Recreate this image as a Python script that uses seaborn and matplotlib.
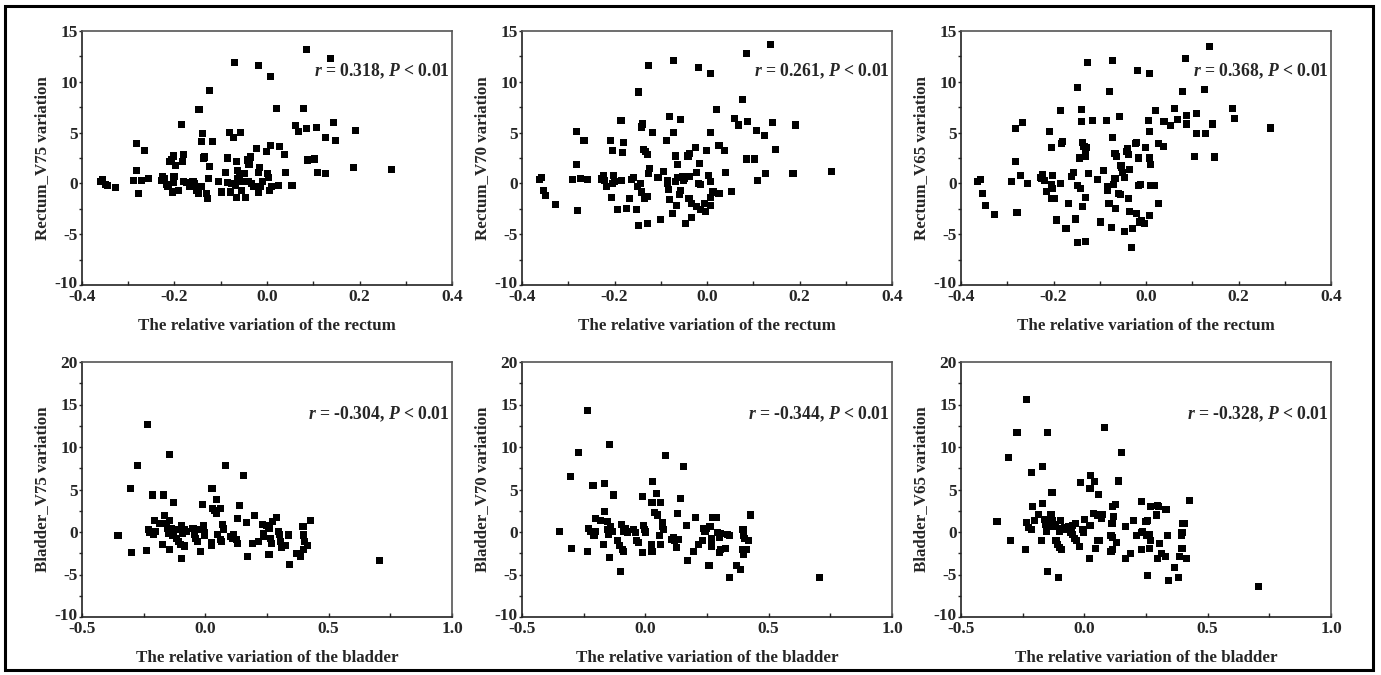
import matplotlib
matplotlib.use("Agg")
import matplotlib.pyplot as plt
import matplotlib.transforms as mtransforms
import numpy as np
import pandas as pd
import seaborn as sns
from matplotlib.ticker import MultipleLocator
from matplotlib.patches import Rectangle

# ---- data ----
# rectum, V75
p1_x = [-0.360, -0.355, -0.350, -0.345, -0.327, -0.289, -0.282, -0.282, -0.278, -0.271,
        -0.265, -0.257, -0.228, -0.225, -0.221, -0.217, -0.214, -0.210, -0.206, -0.203,
        -0.201, -0.203, -0.204, -0.197, -0.192, -0.185, -0.181, -0.183, -0.181, -0.174,
        -0.167, -0.160, -0.156, -0.153, -0.149, -0.147, -0.142, -0.140, -0.141, -0.138,
        -0.135, -0.131, -0.129, -0.127, -0.125, -0.124, -0.117, -0.104, -0.099, -0.090,
        -0.086, -0.086, -0.081, -0.077, -0.078, -0.072, -0.071, -0.068, -0.066, -0.066,
        -0.063, -0.060, -0.063, -0.058, -0.055, -0.053, -0.048, -0.046, -0.041, -0.039,
        -0.041, -0.036, -0.034, -0.030, -0.023, -0.019, -0.019, -0.018, -0.016, -0.014,
        -0.009, -0.001, 0.002, 0.004, 0.006, 0.009, 0.008, 0.008, 0.020, 0.024,
        0.027, 0.038, 0.040, 0.054, 0.061, 0.069, 0.078, 0.086, 0.086, 0.087,
        0.103, 0.108, 0.110, 0.126, 0.127, 0.137, 0.144, 0.148, 0.191, 0.187, 0.270]
p1_y = [0.2, 0.4, -0.1, -0.2, -0.4, 0.3, 3.9, 1.25, -1.0, 0.3,
        3.25, 0.5, 0.3, 0.7, 0.45, -0.1, -0.35, 2.2, 2.3, 2.7,
        0.7, 0.05, -0.85, 1.8, -0.7, 5.8, 2.8, 2.2, 0.2, 0.1,
        -0.35, 0.2, 0.0, -0.7, -0.95, 7.25, -0.35, 4.9, 4.1, 2.5,
        2.6, -0.95, -1.45, 0.45, 9.1, 1.7, 4.1, 0.15, -0.85, 1.1,
        2.5, 0.1, 5.0, 0.0, -0.85, 4.5, 11.9, -0.2, -1.35, 2.2,
        1.3, 0.7, 0.45, 5.0, -0.7, 0.15, 1.0, -1.35, 2.3, 1.9,
        0.15, 2.6, 0.0, -0.35, 3.4, 1.1, -0.85, 11.6, 1.6, -0.35,
        0.15, 3.1, 0.95, 0.6, -0.7, -0.35, 10.5, 3.7, 7.35, -0.2,
        3.6, 2.8, 1.1, -0.25, 5.7, 5.15, 7.35, 13.2, 5.4, 2.3,
        2.4, 5.5, 1.05, 4.5, 0.95, 12.3, 6.0, 4.2, 5.2, 1.6, 1.4]

# rectum, V70
p2_x = [-0.363, -0.358, -0.354, -0.350, -0.327, -0.291, -0.283, -0.282, -0.280, -0.273,
        -0.266, -0.259, -0.229, -0.224, -0.221, -0.228, -0.217, -0.209, -0.205, -0.207,
        -0.203, -0.204, -0.200, -0.193, -0.186, -0.183, -0.181, -0.185, -0.174, -0.168,
        -0.163, -0.158, -0.153, -0.150, -0.149, -0.148, -0.144, -0.142, -0.142, -0.140,
        -0.137, -0.133, -0.135, -0.128, -0.128, -0.128, -0.127, -0.127, -0.125, -0.117,
        -0.106, -0.101, -0.094, -0.088, -0.086, -0.084, -0.086, -0.081, -0.081, -0.075,
        -0.072, -0.073, -0.068, -0.068, -0.066, -0.063, -0.063, -0.060, -0.058, -0.058,
        -0.053, -0.050, -0.048, -0.046, -0.041, -0.037, -0.037, -0.039, -0.034, -0.034,
        -0.024, -0.023, -0.022, -0.019, -0.017, -0.018, -0.014, -0.014, -0.005, -0.004,
        -0.001, 0.004, 0.007, 0.007, 0.008, 0.008, 0.008, 0.013, 0.020, 0.026,
        0.026, 0.038, 0.040, 0.053, 0.060, 0.068, 0.076, 0.085, 0.087, 0.086,
        0.103, 0.108, 0.110, 0.124, 0.126, 0.137, 0.142, 0.148, 0.186, 0.191, 0.270]
p2_y = [0.35, 0.6, -0.7, -1.2, -2.1, 0.4, 5.15, 1.85, -2.65, 0.5,
        4.2, 0.4, 0.5, 0.8, 0.3, 0.4, -0.35, 4.2, 3.25, -1.35,
        0.8, 0.0, 0.15, -2.6, 6.2, 3.0, 4.05, 0.25, -2.5, -1.5,
        0.4, 0.6, -2.55, -0.35, -4.1, 9.0, 0.0, -0.85, 5.55, 5.85,
        3.3, 3.1, -1.5, 2.85, -1.25, -3.95, 11.6, 0.95, 1.45, 5.05,
        0.6, -3.55, 1.2, 4.2, 0.0, -0.6, 0.3, 6.6, -1.6, -3.0,
        12.1, 5.0, 2.7, 0.15, -2.2, 1.85, 0.6, -1.1, 6.3, -0.7,
        0.7, 0.3, 0.5, -3.95, 2.7, 2.9, 0.7, -1.5, -3.4, -1.95,
        3.55, 1.1, -2.3, 11.45, 1.95, 0.0, -0.1, -2.6, -1.95, -2.8,
        3.25, 0.8, 10.8, 5.0, 0.15, -1.35, -2.15, -0.85, 7.25, 3.75,
        -1.0, 3.25, 1.05, -0.8, 6.4, 5.75, 8.3, 12.75, 6.1, 2.4,
        2.4, 5.2, 0.3, 4.7, 0.95, 13.7, 6.0, 3.35, 0.95, 5.75, 1.2]

# rectum, V65
p3_x = [-0.364, -0.358, -0.353, -0.348, -0.328, -0.290, -0.282, -0.282, -0.279, -0.272,
        -0.267, -0.257, -0.229, -0.223, -0.220, -0.225, -0.216, -0.209, -0.205, -0.203,
        -0.204, -0.202, -0.204, -0.197, -0.193, -0.185, -0.184, -0.182, -0.180, -0.173,
        -0.168, -0.162, -0.157, -0.152, -0.149, -0.148, -0.148, -0.144, -0.142, -0.140,
        -0.140, -0.137, -0.134, -0.130, -0.128, -0.137, -0.130, -0.130, -0.131, -0.126,
        -0.124, -0.115, -0.104, -0.099, -0.092, -0.086, -0.084, -0.084, -0.080, -0.079,
        -0.074, -0.072, -0.072, -0.070, -0.067, -0.063, -0.067, -0.066, -0.058, -0.059,
        -0.056, -0.054, -0.052, -0.050, -0.047, -0.047, -0.041, -0.040, -0.038, -0.038,
        -0.036, -0.035, -0.032, -0.029, -0.023, -0.020, -0.020, -0.018, -0.017, -0.016,
        -0.011, -0.014, -0.009, -0.004, -0.001, 0.005, 0.007, 0.007, 0.007, 0.009,
        0.009, 0.018, 0.007, 0.020, 0.027, 0.027, 0.038, 0.039, 0.053, 0.061,
        0.068, 0.078, 0.086, 0.088, 0.088, 0.104, 0.110, 0.110, 0.128, 0.126,
        0.137, 0.144, 0.149, 0.187, 0.192, 0.270]
p3_y = [0.2, 0.4, -1.0, -2.15, -3.05, 0.15, 5.4, 2.2, -2.9, 0.8,
        6.0, 0.0, 0.6, 0.85, 0.3, 0.45, -0.8, 5.15, -0.1, -0.5,
        3.5, 0.8, -1.5, -1.5, -3.6, 7.2, 0.0, 3.9, 4.1, -4.45,
        -1.95, 0.7, 1.1, -3.5, -0.2, 9.4, -5.8, 2.5, -0.5, 7.3,
        6.1, 4.05, 3.6, 3.3, 3.5, -2.3, 2.65, -1.35, -5.7, 11.9,
        0.95, 6.2, 0.4, -3.8, 1.3, 6.2, -0.3, -0.7, -2.0, 9.05,
        -4.35, 4.55, 12.1, -0.1, 2.9, 2.65, 0.45, -2.5, 6.6, -0.95,
        -1.1, 1.75, 1.55, 1.1, 0.6, -4.7, 3.1, 3.4, 2.8, -1.5,
        1.4, -2.8, -6.35, -4.45, 3.9, 4.05, -3.0, 11.1, 2.5, -0.2,
        -0.1, -3.8, -3.65, -3.95, 3.5, 6.2, 10.8, 5.15, 2.5, 1.85,
        -0.2, -0.25, -3.2, 7.2, -2.0, 3.9, 3.6, 6.1, 5.7, 7.4,
        6.3, 9.05, 12.3, 6.7, 5.85, 2.65, 6.85, 4.95, 4.95, 9.25,
        13.5, 5.85, 2.6, 7.4, 6.4, 5.45]

# bladder, V75
p4_x = [-0.354, -0.304, -0.300, -0.276, -0.239, -0.236, -0.232, -0.226, -0.215, -0.209,
        -0.201, -0.205, -0.185, -0.172, -0.168, -0.165, -0.158, -0.155, -0.151, -0.147,
        -0.145, -0.145, -0.138, -0.131, -0.124, -0.128, -0.118, -0.108, -0.101, -0.104,
        -0.097, -0.097, -0.091, -0.086, -0.084, -0.077, -0.050, -0.043, -0.039, -0.030,
        -0.023, -0.018, -0.012, -0.007, -0.005, -0.003, 0.024, 0.024, 0.027, 0.028,
        0.038, 0.045, 0.047, 0.061, 0.051, 0.061, 0.065, 0.069, 0.072, 0.082,
        0.101, 0.109, 0.115, 0.128, 0.132, 0.132, 0.139, 0.153, 0.166, 0.170,
        0.191, 0.201, 0.214, 0.231, 0.234, 0.234, 0.250, 0.258, 0.258, 0.264,
        0.268, 0.272, 0.288, 0.295, 0.301, 0.304, 0.308, 0.326, 0.339, 0.342,
        0.369, 0.385, 0.396, 0.399, 0.399, 0.403, 0.416, 0.427, 0.707]
p4_y = [-0.45, 5.15, -2.45, 7.8, -2.2, 12.7, 0.25, -0.05, 4.35, -0.25,
        0.1, 1.4, 1.0, -1.45, 4.35, 1.9, 1.0, 0.45, -0.15, 1.35,
        -2.1, 9.15, 0.45, -0.35, 0.25, 3.5, -0.75, -1.15, -1.45, 0.25,
        0.8, -3.1, -0.15, -1.65, 0.25, 0.05, 0.45, -0.25, -0.75, -1.15,
        0.25, -2.25, 3.25, 0.8, -0.05, -0.35, -1.25, -1.55, 5.15, 2.8,
        2.5, 3.85, 2.2, 2.8, -0.25, -0.85, -1.15, 0.9, 0.35, 7.8,
        -0.55, -0.75, -0.35, -0.85, -1.4, 1.6, 3.1, 6.65, 1.1, -2.9,
        -1.35, 1.9, -1.15, 0.9, -0.15, -0.55, 0.75, 0.45, -2.7, -0.75,
        -1.35, 1.2, 1.75, 0.05, -0.25, -1.15, -1.85, -1.55, -0.35, -3.8,
        -2.5, -2.9, 0.65, -0.35, -2.1, -1.15, -1.6, 1.4, -3.3]

# bladder, V70
p5_x = [-0.349, -0.302, -0.298, -0.272, -0.235, -0.233, -0.231, -0.224, -0.212, -0.208,
        -0.202, -0.202, -0.181, -0.168, -0.165, -0.164, -0.155, -0.152, -0.148, -0.145,
        -0.144, -0.141, -0.134, -0.128, -0.112, -0.103, -0.094, -0.101, -0.097, -0.090,
        -0.087, -0.081, -0.074, -0.047, -0.040, -0.036, -0.027, -0.013, -0.011, -0.007,
        -0.003, 0.000, 0.024, 0.027, 0.027, 0.030, 0.038, 0.044, 0.051, 0.058,
        0.060, 0.063, 0.070, 0.071, 0.074, 0.083, 0.105, 0.114, 0.118, 0.128,
        0.132, 0.134, 0.141, 0.155, 0.168, 0.171, 0.195, 0.203, 0.215, 0.233,
        0.235, 0.242, 0.246, 0.258, 0.262, 0.269, 0.269, 0.273, 0.289, 0.293,
        0.300, 0.305, 0.302, 0.306, 0.325, 0.333, 0.340, 0.343, 0.370, 0.386,
        0.396, 0.399, 0.403, 0.396, 0.399, 0.410, 0.417, 0.427, 0.706]
p5_y = [0.1, 6.55, -1.95, 9.35, -2.3, 14.3, 0.4, 0.1, 5.5, -0.35,
        0.1, 1.6, 1.3, -1.45, 5.75, 2.4, 1.2, 0.3, -0.25, -3.05,
        10.3, 0.7, 0.1, 4.35, -1.05, -1.55, -2.05, -4.6, 0.9, 0.1,
        -2.25, 0.4, 0.0, 0.3, -0.1, -1.05, -1.25, -2.45, 4.15, 0.8,
        0.25, 0.0, -1.45, -2.3, 3.45, 5.9, 2.3, 4.55, 2.0, -0.4,
        3.45, -1.45, 1.1, 0.7, 0.25, 8.95, -0.85, -0.65, -1.0, -1.85,
        2.2, -0.85, 3.95, 7.7, 0.8, -3.4, -2.25, 1.75, -1.45, -1.05,
        0.4, 0.1, 0.45, -3.9, 0.7, -0.8, -1.65, 1.75, 1.75, -0.1,
        -0.65, -0.2, -2.45, -2.05, -1.95, -0.25, -0.45, -5.3, -3.9, -4.4,
        0.3, -0.4, -0.8, -2.1, -2.65, -2.1, -1.05, 2.0, -5.3]

# bladder, V65
p6_x = [-0.354, -0.307, -0.301, -0.273, -0.238, -0.236, -0.234, -0.227, -0.216, -0.216,
        -0.209, -0.203, -0.185, -0.173, -0.169, -0.169, -0.162, -0.158, -0.155, -0.149,
        -0.149, -0.145, -0.135, -0.128, -0.131, -0.131, -0.118, -0.115, -0.108, -0.101,
        -0.091, -0.104, -0.101, -0.095, -0.088, -0.081, -0.072, -0.064, -0.054, -0.047,
        -0.041, -0.047, -0.036, -0.030, -0.020, -0.014, -0.007, -0.003, 0.000, 0.020,
        0.023, 0.024, 0.023, 0.036, 0.041, 0.047, 0.054, 0.061, 0.058, 0.054,
        0.068, 0.072, 0.081, 0.108, 0.115, 0.108, 0.115, 0.112, 0.115, 0.128,
        0.118, 0.131, 0.138, 0.149, 0.166, 0.166, 0.189, 0.199, 0.212, 0.230,
        0.230, 0.236, 0.232, 0.250, 0.257, 0.254, 0.264, 0.257, 0.264, 0.268,
        0.270, 0.291, 0.297, 0.301, 0.297, 0.304, 0.311, 0.328, 0.331, 0.338,
        0.341, 0.365, 0.382, 0.385, 0.395, 0.396, 0.399, 0.405, 0.396, 0.415,
        0.426, 0.707]
p6_y = [1.2, 8.8, -1.0, 11.75, -2.05, 15.6, 1.1, 0.5, 0.3, 7.0,
        3.0, 1.3, 2.1, -1.05, 7.7, 3.35, 1.5, 0.9, 0.1, 11.75,
        -4.6, 1.3, 2.0, 1.3, 0.7, 4.7, 0.9, -1.0, -1.45, -1.85,
        -2.1, -5.3, 0.1, 1.3, 0.4, 0.5, 0.3, 0.7, 0.0, -0.25,
        -0.8, 0.8, 1.0, -1.05, -1.75, 5.8, 0.3, -0.1, 1.5, -3.15,
        5.1, 6.6, 0.8, 2.2, 5.95, -1.95, -1.05, -1.0, 4.45, 2.0,
        1.6, 2.1, 12.25, -2.25, -2.05, -0.45, -0.65, 1.0, 3.0, 3.25,
        1.8, -1.2, 6.0, 9.35, -3.15, 0.7, -2.55, 1.3, -0.45, 3.55,
        -0.1, 0.1, -2.05, 1.2, 1.4, -0.45, -0.25, -5.1, -1.95, 3.0,
        -1.0, 2.0, 3.15, 3.05, -3.15, -1.4, -2.55, -2.85, 2.7, -0.45,
        -5.7, -4.15, -5.3, -2.85, -0.45, -0.1, 1.0, 1.0, -1.95, -3.1,
        3.75, -6.4]

panel_x = [p1_x, p2_x, p3_x, p4_x, p5_x, p6_x]
panel_y = [p1_y, p2_y, p3_y, p4_y, p5_y, p6_y]
y_labels = ["Rectum_V75 variation", "Rectum_V70 variation", "Rectum_V65 variation",
            "Bladder_V75 variation", "Bladder_V70 variation", "Bladder_V65 variation"]
x_labels = ["The relative variation of the rectum"] * 3 + ["The relative variation of the bladder"] * 3
r_values = ["0.318", "0.261", "0.368", "-0.304", "-0.344", "-0.328"]

sns.set_style("ticks")
plt.rcParams["font.family"] = ["Liberation Serif", "DejaVu Serif"]
plt.rcParams["font.weight"] = "bold"
plt.rcParams["axes.labelweight"] = "bold"
plt.rcParams["mathtext.fontset"] = "custom"
plt.rcParams["mathtext.it"] = "Liberation Serif:italic:bold"
plt.rcParams["mathtext.rm"] = "Liberation Serif:bold"

fig = plt.figure(figsize=(13.81, 6.75), dpi=100)
W, H = 1381, 675
lefts = [82, 522, 961]
tops = [31, 362]
bottoms = [285, 617]
width = 370

axes = []
for i in range(6):
    row, col = divmod(i, 3)
    ax = fig.add_axes([lefts[col] / W, (H - bottoms[row]) / H,
                       width / W, (bottoms[row] - tops[row]) / H])
    axes.append(ax)
    df = pd.DataFrame({"x": panel_x[i], "y": panel_y[i]})
    sns.scatterplot(data=df, x="x", y="y", ax=ax, marker="s", s=26,
                    color="black", edgecolor="none", linewidth=0)
    if row == 0:
        ax.set_xlim(-0.4, 0.4)
        ax.set_ylim(-10, 15)
        ax.xaxis.set_major_locator(MultipleLocator(0.2))
        ax.xaxis.set_minor_locator(MultipleLocator(0.1))
        text_y = 0.84
    else:
        ax.set_xlim(-0.5, 1.0)
        ax.set_ylim(-10, 20)
        ax.xaxis.set_major_locator(MultipleLocator(0.5))
        ax.xaxis.set_minor_locator(MultipleLocator(0.25))
        text_y = 0.795
    ax.yaxis.set_major_locator(MultipleLocator(5))
    ax.yaxis.set_minor_locator(MultipleLocator(2.5))
    ax.xaxis.set_major_formatter(plt.FuncFormatter(lambda v, p: f"{v:.1f}"))
    ax.yaxis.set_major_formatter(plt.FuncFormatter(lambda v, p: f"{v:.0f}"))

    ax.tick_params(axis="x", which="both", direction="in", length=3, width=1,
                   labelsize=12.5, pad=3)
    ax.tick_params(axis="y", which="both", direction="out", length=2.5, width=1,
                   labelsize=12.5, pad=0.5)
    for name, sp in ax.spines.items():
        sp.set_visible(True)
        sp.set_linewidth(1.2)
        sp.set_color("#222222" if name in ("left", "bottom") else "#555555")

    ax.set_xlabel(x_labels[i], fontsize=12.2, fontweight="bold", labelpad=9)
    ax.set_ylabel(y_labels[i], fontsize=12.2, fontweight="bold", labelpad=3)
    ax.text(0.993, text_y, r"$r$ = " + r_values[i] + r", $P$ < 0.01",
            transform=ax.transAxes, ha="right", va="center",
            fontsize=12.7, fontweight="bold")

# lift the "-10" corner label a touch so it clears the first x label
fig.canvas.draw()
lift = mtransforms.ScaledTranslation(0, 3 / 100, fig.dpi_scale_trans)
for ax in axes:
    lab = ax.yaxis.get_major_ticks()
    for tick in lab:
        if abs(tick.get_loc() + 10) < 1e-9:
            tick.label1.set_transform(tick.label1.get_transform() + lift)

fig.patches.append(Rectangle((5 / W, 5 / H), 1368 / W, 664 / H, transform=fig.transFigure,
                             fill=False, edgecolor="black", linewidth=2.2))

fig.savefig("out.png", dpi=100, facecolor="white")
